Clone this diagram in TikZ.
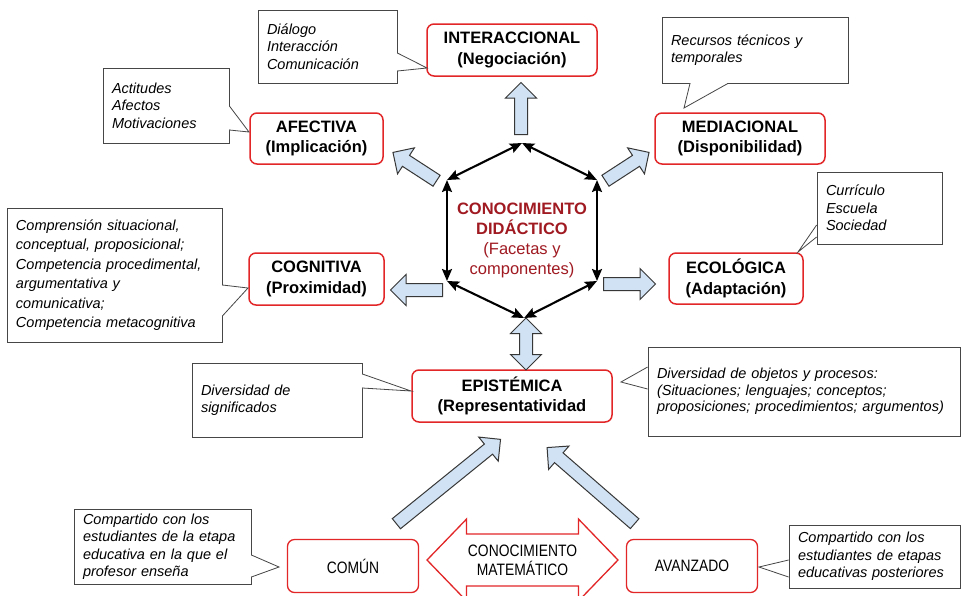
\documentclass[tikz,border=0pt]{standalone}
\usepackage{fontspec}
\setmainfont{Liberation Sans}
\newfontfamily\narrowfont[FakeStretch=0.84]{Liberation Sans}
\usetikzlibrary{arrows.meta,shapes.arrows}
\definecolor{boxred}{RGB}{226,38,40}
\definecolor{textred}{RGB}{160,26,34}
\definecolor{arrowfill}{RGB}{208,226,243}
\definecolor{arrowline}{RGB}{55,55,55}
\definecolor{noteline}{RGB}{70,70,70}
\begin{document}
\begin{tikzpicture}
[x=1pt,y=-1pt,
  facetbox/.style={draw=boxred,line width=1.5pt,rounded corners=7pt,fill=white,
    align=center,inner sep=0pt,font=\bfseries\fontsize{16.5}{20.5}\selectfont},
  levelbox/.style={draw=boxred,line width=1.3pt,rounded corners=7pt,fill=white,
    align=center,inner sep=0pt,minimum width=131pt,minimum height=53pt,
    font=\narrowfont\fontsize{16.5}{19}\selectfont},
  notebox/.style={draw=noteline,line width=0.8pt,fill=white,align=left,
    inner xsep=9pt,inner ysep=0pt,font=\itshape\fontsize{14.5}{17.5}\selectfont},
  notetail/.style={draw=noteline,line width=0.8pt,fill=white},
  notegap/.style={draw=white,line width=1.6pt},
  blockarrow/.style={single arrow,draw=arrowline,fill=arrowfill,line width=1pt,
    inner xsep=0pt,inner ysep=6pt,single arrow head extend=9pt,
    single arrow tip angle=90,minimum height=#1,anchor=tail},
  twinarrow/.style={double arrow,draw=arrowline,fill=arrowfill,line width=1pt,
    inner xsep=0pt,inner ysep=6pt,double arrow head extend=9pt,
    double arrow tip angle=90,minimum height=#1},
  matharrow/.style={double arrow,draw=boxred,line width=1.3pt,fill=white,
    align=center,inner xsep=0pt,inner ysep=10pt,double arrow head extend=15pt,
    double arrow tip angle=92,minimum height=191pt,
    font=\narrowfont\fontsize{16.5}{19}\selectfont},
  hexedge/.style={{Stealth[length=12pt,width=10pt,inset=2pt]}-{Stealth[length=12pt,width=10pt,inset=2pt]},
    line width=2.1pt}]
\path[clip] (0,0) rectangle (963,595);
\fill[white] (0,0) rectangle (963,595);
% corners of the hexagon
\coordinate (htop) at (522,143);
\coordinate (hul) at (447,180);
\coordinate (hur) at (597,180);
\coordinate (hll) at (447,281);
\coordinate (hlr) at (597,281);
\coordinate (hbot) at (524,318);
\node (didactic) at (522,240) [align=center,text=textred,
  font=\fontsize{16.5}{20}\selectfont]
  {{\bfseries CONOCIMIENTO}\\{\bfseries DIDÁCTICO}\\(Facetas y\\componentes)};
% edges of the hexagon
\path
(htop) edge[hexedge] (hul)
(htop) edge[hexedge] (hur)
(hul) edge[hexedge] (hll)
(hur) edge[hexedge] (hlr)
(hll) edge[hexedge] (hbot)
(hlr) edge[hexedge] (hbot);
% facets
\node (inter) at (512,50) [facetbox,minimum width=170pt,minimum height=52pt]
  {INTERACCIONAL\\(Negociación)};
\node (affect) at (316.5,138.5) [facetbox,minimum width=133pt,minimum height=51pt]
  {AFECTIVA\\(Implicación)};
\node (media) at (740,138.5) [facetbox,minimum width=170pt,minimum height=51pt]
  {MEDIACIONAL\\(Disponibilidad)};
\node (cognit) at (316.5,279) [facetbox,minimum width=135pt,minimum height=52pt]
  {COGNITIVA\\(Proximidad)};
\node (ecolog) at (736,278.5) [facetbox,minimum width=134pt,minimum height=51pt]
  {ECOLÓGICA\\(Adaptación)};
\node (epist) at (512,396) [facetbox,minimum width=200pt,minimum height=52pt]
  {EPISTÉMICA\\(Representatividad};
% block arrows
\node (tointer) at (521,135) [blockarrow=52,rotate=90] {};
\node (toaffect) at (437,181) [blockarrow=52,rotate=147] {};
\node (tomedia) at (605,181) [blockarrow=52,rotate=33] {};
\node (tocognit) at (443,290) [blockarrow=52,rotate=180] {};
\node (toecolog) at (603,284) [blockarrow=52,rotate=0] {};
\node (toepist) at (526,344) [twinarrow=52,rotate=90] {};
\node (fromcommon) at (396,524) [blockarrow=134,rotate=39] {};
\node (fromadvanced) at (635,524) [blockarrow=116,rotate=139] {};
% mathematical knowledge
\node (common) at (353,566) [levelbox] {COMÚN};
\node (advanced) at (692,566) [levelbox] {AVANZADO};
\node (maths) at (522.5,560) [matharrow] {CONOCIMIENTO\\MATEMÁTICO};
% notes
\node (ndial) at (327.5,46.5) [notebox,text width=121pt,minimum height=73pt]
  {Diálogo\\Interacción\\Comunicación};
\node (naffect) at (166,105.5) [notebox,text width=108pt,minimum height=75pt]
  {Actitudes\\Afectos\\Motivaciones};
\node (nmedia) at (755,50) [notebox,text width=168pt,minimum height=66pt]
  {Recursos técnicos y\\temporales};
\node (necolog) at (879.5,208) [notebox,text width=107pt,minimum height=72pt]
  {Currículo\\Escuela\\Sociedad};
\node (ncognit) at (114.5,275) [notebox,text width=197pt,minimum height=134pt,
  font=\itshape\fontsize{14.5}{19.5}\selectfont]
  {Comprensión situacional,\\conceptual, proposicional;\\Competencia procedimental,\\argumentativa y\\comunicativa;\\Competencia metacognitiva};
\node (nmeaning) at (277,400) [notebox,text width=152pt,minimum height=74pt]
  {Diversidad de\\significados};
\node (nobject) at (804,391.5) [notebox,text width=294pt,minimum height=89pt,
  font=\itshape\fontsize{14.5}{16.5}\selectfont]
  {Diversidad de objetos y procesos:\\(Situaciones; lenguajes; conceptos;\\proposiciones; procedimientos; argumentos)};
\node (nshared) at (162.5,546.5) [notebox,text width=159pt,minimum height=75pt]
  {Compartido con los\\estudiantes de la etapa\\educativa en la que el\\profesor enseña};
\node (nlater) at (874.5,556.5) [notebox,text width=153pt,minimum height=63pt]
  {Compartido con los\\estudiantes de etapas\\educativas posteriores};
% pointers of the notes
\coordinate (tdial) at (427,68);
\draw[notegap] (ndial.east |- 0,54) -- (ndial.east |- 0,70);
\draw[notetail] (ndial.east |- 0,53) -- (tdial) -- (ndial.east |- 0,71);
\coordinate (taffect) at (249,132);
\draw[notegap] (naffect.east |- 0,107) -- (naffect.east |- 0,129);
\draw[notetail] (naffect.east |- 0,106) -- (taffect) -- (naffect.east |- 0,130);
\coordinate (tmedia) at (684,108);
\draw[notegap] (691,0 |- nmedia.south) -- (727,0 |- nmedia.south);
\draw[notetail] (690,0 |- nmedia.south) -- (tmedia) -- (728,0 |- nmedia.south);
\coordinate (tecolog) at (798,252);
\draw[notegap] (necolog.west |- 0,226) -- (necolog.west |- 0,236);
\draw[notetail] (necolog.west |- 0,225) -- (tecolog) -- (necolog.west |- 0,237);
\coordinate (tcognit) at (248,288);
\draw[notegap] (ncognit.east |- 0,286) -- (ncognit.east |- 0,315);
\draw[notetail] (ncognit.east |- 0,285) -- (tcognit) -- (ncognit.east |- 0,316);
\coordinate (tmeaning) at (411,391);
\draw[notegap] (nmeaning.east |- 0,375) -- (nmeaning.east |- 0,387);
\draw[notetail] (nmeaning.east |- 0,374) -- (tmeaning) -- (nmeaning.east |- 0,388);
\coordinate (tobject) at (621,382);
\draw[notegap] (nobject.west |- 0,368) -- (nobject.west |- 0,388);
\draw[notetail] (nobject.west |- 0,367) -- (tobject) -- (nobject.west |- 0,389);
\coordinate (tshared) at (279,567);
\draw[notegap] (nshared.east |- 0,556) -- (nshared.east |- 0,576);
\draw[notetail] (nshared.east |- 0,555) -- (tshared) -- (nshared.east |- 0,577);
\coordinate (tlater) at (759,567);
\draw[notegap] (nlater.west |- 0,561) -- (nlater.west |- 0,576);
\draw[notetail] (nlater.west |- 0,560) -- (tlater) -- (nlater.west |- 0,577);
\end{tikzpicture}
\end{document}
